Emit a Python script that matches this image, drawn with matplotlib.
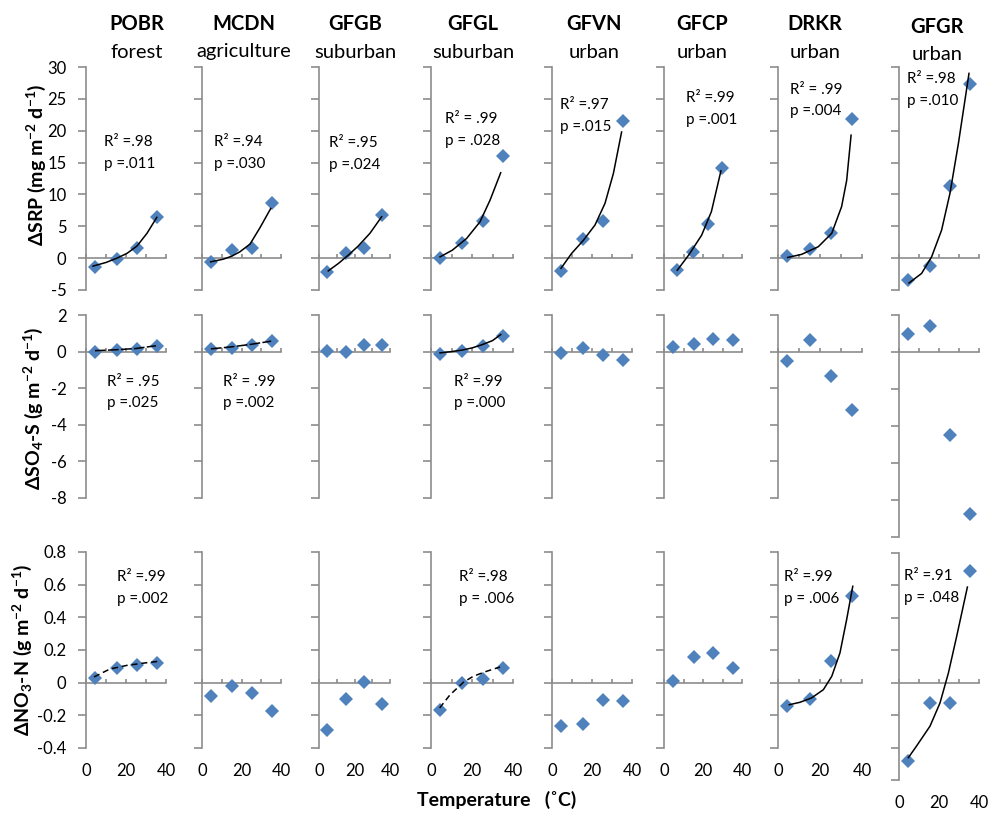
import numpy as np
import matplotlib
matplotlib.use("Agg")
import matplotlib.pyplot as plt

plt.rcParams['font.family'] = ['Lato', 'DejaVu Sans']
plt.rcParams['axes.unicode_minus'] = False
plt.rcParams['mathtext.fontset'] = 'custom'
plt.rcParams['mathtext.rm'] = 'Lato'
plt.rcParams['mathtext.bf'] = 'Lato:bold'
plt.rcParams['mathtext.it'] = 'Lato:italic'

# ---------------- data ----------------
streams = ["POBR", "MCDN", "GFGB", "GFGL", "GFVN", "GFCP", "DRKR", "GFGR"]
land_use = ["forest", "agriculture", "suburban", "suburban", "urban", "urban", "urban", "urban"]

temp = [4.5, 15.3, 25.3, 35.3]
temp_gfcp_srp = [6.5, 15.0, 22.5, 29.7]   # GFCP SRP points sit at other temps

# delta SRP (mg m-2 d-1)
srp = [
    [-1.4, -0.2, 1.6, 6.5],
    [-0.6, 1.2, 1.6, 8.7],
    [-2.2, 0.8, 1.6, 6.8],
    [0.1, 2.4, 5.8, 16.1],
    [-2.0, 3.0, 5.8, 21.5],
    [-1.9, 1.0, 5.4, 14.1],
    [0.3, 1.5, 3.9, 21.8],
    [-3.5, -1.2, 11.3, 27.3],
]
# delta SO4-S (g m-2 d-1)
so4 = [
    [0.0, 0.07, 0.15, 0.29],
    [0.13, 0.22, 0.37, 0.57],
    [0.02, 0.0, 0.35, 0.35],
    [-0.15, 0.03, 0.3, 0.86],
    [-0.1, 0.2, -0.2, -0.48],
    [0.26, 0.44, 0.69, 0.66],
    [-0.53, 0.62, -1.35, -3.17],
    [0.98, 1.42, -4.48, -8.73],
]
# delta NO3-N (g m-2 d-1)
no3 = [
    [0.03, 0.09, 0.11, 0.12],
    [-0.08, -0.02, -0.065, -0.175],
    [-0.29, -0.1, 0.005, -0.13],
    [-0.165, 0.0, 0.025, 0.09],
    [-0.265, -0.255, -0.105, -0.115],
    [0.01, 0.16, 0.18, 0.09],
    [-0.14, -0.1, 0.135, 0.53],
    [-0.48, -0.125, -0.125, 0.69],
]

# trend lines
srp_fit_t = [
    [3.5, 10, 15.5, 20.5, 25.5, 30.5, 35.4],
    [4.4, 10.8, 15, 19.2, 24.3, 29.4, 34.8],
    [5.2, 10.9, 16.5, 22.1, 28.7, 35.3],
    [4.4, 10.4, 17.4, 23.9, 28.8, 34.0],
    [4.5, 9.8, 15.7, 21.5, 26.5, 30.7, 34.8],
    [6.8, 12.7, 19.3, 24.3, 29.2],
    [4.6, 11.3, 19.2, 25.6, 30.3, 32.7, 34.8],
    [5.0, 11.3, 16.3, 21.3, 25.5, 29.7, 35.0],
]
srp_fit_y = [
    [-1.25, -0.68, 0.0, 0.75, 1.9, 3.9, 6.4],
    [-0.58, -0.16, 0.3, 1.0, 2.2, 4.8, 7.8],
    [-2.0, -0.84, 0.47, 1.9, 3.9, 6.5],
    [0.2, 1.25, 3.1, 5.7, 9.1, 13.4],
    [-1.6, 0.74, 2.8, 5.2, 8.6, 13.3, 19.8],
    [-1.9, 0.5, 3.6, 7.3, 13.7],
    [0.1, 0.6, 1.8, 3.9, 8.1, 12.2, 19.3],
    [-3.9, -2.4, 0.2, 4.4, 10.2, 18.0, 29.0],
]
so4_fit_t = [
    [4.5, 15, 25, 35],
    [4.5, 15, 25, 35],
    None,
    [4.4, 10, 15, 20, 25, 30, 34],
    None, None, None, None,
]
so4_fit_y = [
    [0.05, 0.1, 0.17, 0.32],
    [0.15, 0.26, 0.40, 0.57],
    None,
    [-0.07, 0.0, 0.08, 0.2, 0.38, 0.6, 0.93],
    None, None, None, None,
]
no3_fit_t = [
    [4, 12, 20.5, 29, 35.8],
    None, None,
    [4.2, 9.3, 15.8, 20.6, 27.2, 33.7],
    None, None,
    [5.4, 10.5, 15.9, 21.6, 25.6, 29.5, 32.7, 35.6],
    [4.7, 8.8, 15.5, 20.5, 24.7, 28.8, 34.2],
]
no3_fit_y = [
    [0.035, 0.084, 0.106, 0.12, 0.13],
    None, None,
    [-0.155, -0.074, 0.002, 0.039, 0.07, 0.096],
    None, None,
    [-0.135, -0.12, -0.094, -0.043, 0.039, 0.182, 0.387, 0.59],
    [-0.462, -0.39, -0.268, -0.125, 0.06, 0.284, 0.59],
]

srp_stats = [("R² =.98", "p =.011"), ("R² =.94", "p =.030"), ("R² =.95", "p =.024"),
             ("R² = .99", "p = .028"), ("R² =.97", "p =.015"), ("R² =.99", "p =.001"),
             ("R² = .99", "p =.004"), ("R² =.98", "p =.010")]
so4_stats = [("R² = .95", "p =.025"), ("R² = .99", "p =.002"), None,
             ("R² =.99", "p =.000"), None, None, None, None]
no3_stats = [("R² =.99", "p =.002"), None, None, ("R² =.98", "p = .006"),
             None, None, ("R² =.99", "p = .006"), ("R² =.91", "p = .048")]

# ---------------- layout ----------------
W, H = 991, 814
BLUE = "#4F81BD"
GREY = "#8C8C8C"

col_left = [86, 202, 319, 431, 552, 664, 778, 899]
col_right = [166, 281, 390, 513, 632, 742, 862, 979]
header_x = [137, 244, 355, 473, 594, 702, 815, 937]

# pixel boxes and limits for each row; last column is taller in rows 2-3
row_box = [(67, 290), (315, 498), (552, 748)]
row_box_last = [(67, 290), (315, 537), (553, 780)]
row_lim = [(-5, 30), (-8, 2), (-0.4, 0.8)]
row_lim_last = [(-5, 30), (-10, 2), (-0.6, 0.8)]
row_step = [5, 2, 0.2]

srp_stat_pos = [(9.1, 18.2), (6.1, 18.2), (5.6, 18.0), (6.8, 21.8),
                (4.0, 24.0), (11.3, 25.1), (5.7, 26.4), (4.0, 28.1)]
so4_stat_pos = [(10.6, -1.64), (10.6, -1.64), None, (11.2, -1.64), None, None, None, None]
no3_stat_pos = [(15.7, 0.644), None, None, (13.7, 0.644), None, None, (2.9, 0.644), (2.5, 0.656)]

so4_fit_style = ["long", "long", None, "solid", None, None, None, None]
no3_fit_style = ["dash", None, None, "dash", None, None, "solid", "solid"]
dash_map = {"solid": "-", "long": (0, (7, 1.5)), "dash": (0, (4, 2.5))}

ylabels = [r"ΔSRP (mg m$^{\mathbf{-2}}$ d$^{\mathbf{-1}}$)",
           r"ΔSO$_{\mathbf{4}}$-S (g m$^{\mathbf{-2}}$ d$^{\mathbf{-1}}$)",
           r"ΔNO$_{\mathbf{3}}$-N (g m$^{\mathbf{-2}}$ d$^{\mathbf{-1}}$)"]
ylabel_xy = [(36, 165), (33, 408), (22, 650)]

rows = [
    (srp, srp_fit_t, srp_fit_y, ["solid"] * 8, srp_stats, srp_stat_pos),
    (so4, so4_fit_t, so4_fit_y, so4_fit_style, so4_stats, so4_stat_pos),
    (no3, no3_fit_t, no3_fit_y, no3_fit_style, no3_stats, no3_stat_pos),
]

fig = plt.figure(figsize=(W / 100, H / 100), dpi=100)


def fig_xy(x, y):
    return x / W, 1 - y / H


for r, (vals, fit_t, fit_y, styles, stats, stat_pos) in enumerate(rows):
    for c in range(8):
        top, bot = (row_box_last if c == 7 else row_box)[r]
        lo, hi = (row_lim_last if c == 7 else row_lim)[r]
        ax = fig.add_axes([col_left[c] / W, 1 - bot / H,
                           (col_right[c] - col_left[c]) / W, (bot - top) / H])
        ax.set_xlim(0, 40)
        ax.set_ylim(lo, hi)

        for s in ("top", "right"):
            ax.spines[s].set_visible(False)
        ax.spines["left"].set_color(GREY)
        ax.spines["bottom"].set_color(GREY)
        ax.spines["left"].set_linewidth(1.2)
        ax.spines["bottom"].set_linewidth(1.2)
        ax.spines["bottom"].set_position(("data", 0))

        ax.set_xticks([0, 10, 20, 30, 40])
        ax.tick_params(axis="x", direction="in", length=3, width=1.2, color=GREY,
                       labelbottom=False)
        yt = np.round(np.arange(lo, hi + row_step[r] / 2, row_step[r]), 2)
        ax.set_yticks(yt)
        ax.set_yticklabels([f"{v:g}" for v in yt])
        ax.tick_params(axis="y", direction="out", length=6, width=1.2, color=GREY,
                       labelsize=12, pad=8, labelleft=(c == 0))

        tt = temp_gfcp_srp if (r == 0 and c == 5) else temp
        ax.plot(tt, vals[c], linestyle="none", marker="D", markersize=7.5,
                color=BLUE, markeredgewidth=0, zorder=3, clip_on=False)

        if fit_t[c] is not None:
            ax.plot(fit_t[c], fit_y[c], color="black", linewidth=1.1,
                    linestyle=dash_map[styles[c]], zorder=4, clip_on=False)

        if stats[c] is not None:
            tx, ty = stat_pos[c]
            ax.annotate(stats[c][0], xy=(tx, ty), fontsize=11, va="center", ha="left")
            ax.annotate(stats[c][1], xy=(tx, ty), xytext=(0, -15.5),
                        textcoords="offset points", fontsize=11, va="center", ha="left")

        if r == 2:
            sec = ax.secondary_xaxis("bottom")
            sec.set_xticks([0, 20, 40])
            sec.set_xticklabels(["0", "20", "40"])
            sec.tick_params(length=0, labelsize=12, pad=11)
            sec.spines["bottom"].set_visible(False)

# column headers
for c in range(8):
    dy = 3 if c == 7 else 0
    fig.text(*fig_xy(header_x[c], 24 + dy), streams[c], ha="center", va="center",
             fontsize=14.5, fontweight="bold")
    fig.text(*fig_xy(header_x[c], 52 + dy), land_use[c], ha="center", va="center",
             fontsize=14.5)

# row labels
for r in range(3):
    fig.text(*fig_xy(*ylabel_xy[r]), ylabels[r], rotation=90, ha="center",
             va="center", fontsize=14, fontweight="bold")

fig.text(*fig_xy(497, 800), "Temperature   (˚C)", ha="center", va="center",
         fontsize=14, fontweight="bold")

fig.savefig("out.png", dpi=100)
